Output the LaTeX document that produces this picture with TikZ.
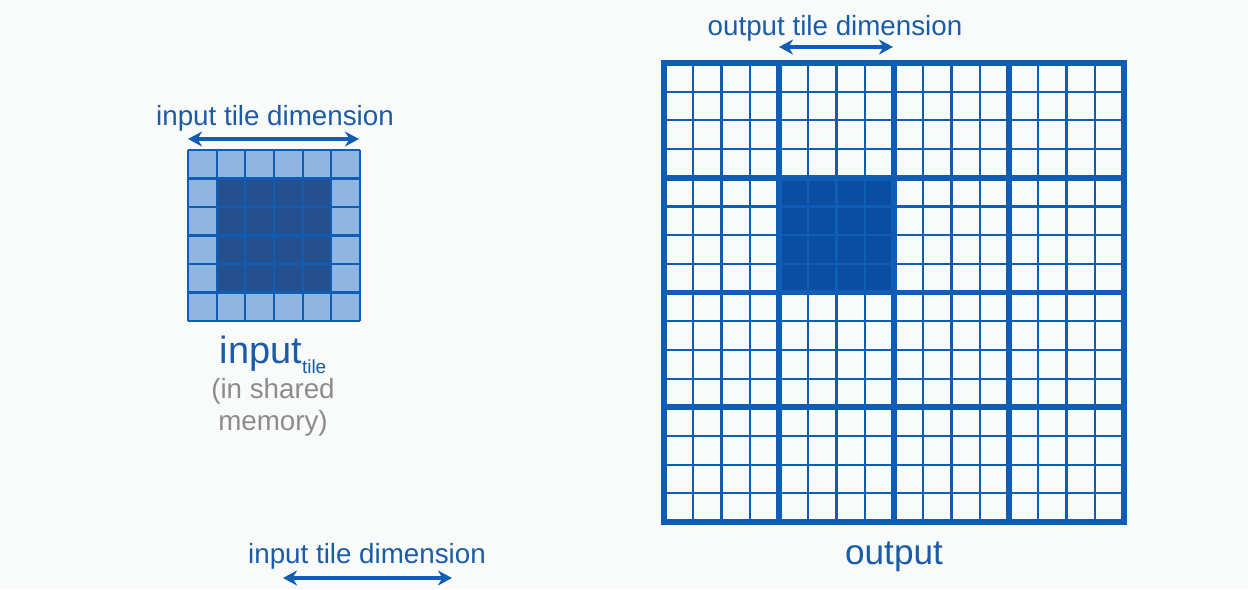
\documentclass[tikz,border=0pt]{standalone}
\usepackage{fontspec}
\setmainfont{Liberation Sans}
\usetikzlibrary{arrows.meta}
\definecolor{bgwhite}{HTML}{F9FBFB}
\definecolor{gridblue}{HTML}{0F5DB5}
\definecolor{txtblue}{HTML}{1B5CA8}
\definecolor{lightcell}{HTML}{8FB5E3}
\definecolor{darkcell}{HTML}{25508F}
\definecolor{fullcell}{HTML}{0A4EA4}
\definecolor{memgray}{HTML}{8C8C8C}
\tikzset{
  thinline/.style={draw=gridblue,line width=1.2pt},
  thickline/.style={draw=gridblue,line width=3.2pt},
  dimlabel/.style={text=txtblue,font=\fontsize{15.8}{18}\selectfont,inner sep=0pt},
  dimarrow/.style={<->,draw=gridblue,line width=2.2pt},
}
\begin{document}
\begin{tikzpicture}[x=0.02cm,y=-0.02cm,>={Stealth[length=8pt,width=8.5pt]}]
\useasboundingbox[fill=bgwhite] (0,0) rectangle (1248,589);
% input tile with halo cells
\fill[lightcell] (188,150) rectangle (360,321);
\fill[darkcell] (216.67,178.67) rectangle (331.33,292.33);
\foreach \i in {0,...,6} {
  \draw[thinline] (188+\i*28.67,150) -- (188+\i*28.67,321);
  \draw[thinline] (188,150+\i*28.5) -- (360,150+\i*28.5);
}
\node[dimlabel] (intop) at (275,118) {input tile dimension};
\coordinate (intopL) at (188,139);
\coordinate (intopR) at (359,139);
\draw[dimarrow] (intopL) -- (intopR);
\node[text=txtblue,inner sep=0pt,anchor=base] (intile) at (273,363)
  {\fontsize{21.6}{24}\selectfont input\raisebox{-5.7pt}{\fontsize{10.8}{12}\selectfont tile}};
\node[text=memgray,align=center,inner sep=0pt,anchor=north,font=\fontsize{15.8}{18.5}\selectfont] (shmem) at (273,378)
  {(in shared\\memory)};
% output grid
\fill[fullcell] (779,178) rectangle (894,293);
\foreach \i in {0,...,16} {
  \draw[thinline] (664+\i*28.75,63) -- (664+\i*28.75,522);
  \draw[thinline] (664,63+\i*28.69) -- (1124,63+\i*28.69);
}
\foreach \i in {0,...,4} {
  \draw[thickline] (664+\i*115,63) -- (664+\i*115,522);
  \draw[thickline] (664,63+\i*114.75) -- (1124,63+\i*114.75);
}
\draw[thickline] (664,63) rectangle (1124,522);
\node[dimlabel] (outtop) at (835,28) {output tile dimension};
\coordinate (outtopL) at (779,47);
\coordinate (outtopR) at (893,47);
\draw[dimarrow] (outtopL) -- (outtopR);
\node[text=txtblue,inner sep=0pt,font=\fontsize{20}{22}\selectfont] (outlbl) at (894,557) {output};
% lower dimension mark
\node[dimlabel] (inbot) at (367,556) {input tile dimension};
\coordinate (inbotL) at (283,578);
\coordinate (inbotR) at (452,578);
\draw[dimarrow] (inbotL) -- (inbotR);
\end{tikzpicture}
\end{document}
